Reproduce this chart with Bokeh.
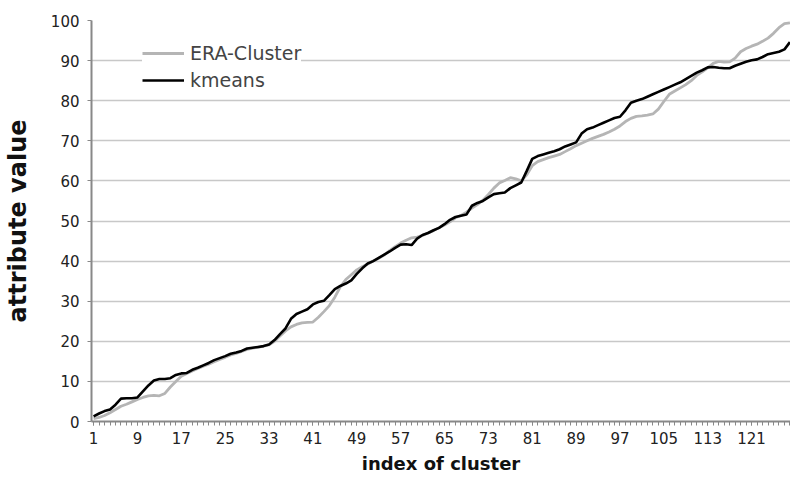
from bokeh.plotting import figure
from bokeh.models import FixedTicker, Range1d, Legend, LegendItem
from bokeh.embed import file_html
from bokeh.resources import INLINE

# ---- data ----
cluster_index = list(range(1, 129))

era_cluster = [
    0.7, 1.0, 1.5, 2.2, 3.0, 3.8, 4.3, 4.9, 5.5, 6.0,
    6.4, 6.5, 6.4, 7.0, 8.6, 10.0, 11.3, 12.0, 12.6, 13.2,
    13.8, 14.3, 14.9, 15.5, 16.0, 16.6, 17.0, 17.5, 18.0, 18.3,
    18.5, 18.8, 19.1, 20.0, 21.3, 22.6, 23.6, 24.2, 24.6, 24.7,
    24.8, 26.0, 27.4, 28.9, 31.0, 33.6, 35.4, 36.6, 37.8, 38.6,
    39.3, 40.0, 40.7, 41.5, 42.6, 43.6, 44.5, 45.2, 45.8, 46.0,
    46.4, 47.0, 47.6, 48.3, 49.0, 49.8, 50.8, 51.4, 52.2, 53.2,
    54.1, 55.2, 56.6, 58.2, 59.5, 60.1, 60.8, 60.5, 60.0, 61.5,
    63.8, 64.8, 65.3, 65.8, 66.2, 66.6, 67.3, 68.0, 68.8, 69.4,
    70.0, 70.6, 71.1, 71.6, 72.2, 72.9, 73.7, 74.8, 75.6, 76.1,
    76.2, 76.4, 76.7, 77.9, 79.8, 81.6, 82.4, 83.2, 84.0, 85.0,
    86.3, 87.2, 88.2, 89.3, 89.8, 89.6, 89.7, 90.6, 92.2, 93.0,
    93.6, 94.1, 94.8, 95.6, 96.8, 98.2, 99.2, 99.4,
]

kmeans = [
    1.3, 2.0, 2.6, 3.0, 4.2, 5.7, 5.8, 5.8, 6.0, 7.5,
    9.0, 10.2, 10.6, 10.6, 10.8, 11.6, 12.0, 12.1, 12.9, 13.4,
    14.0, 14.6, 15.3, 15.8, 16.3, 16.9, 17.2, 17.6, 18.2, 18.4,
    18.6, 18.8, 19.2, 20.3, 21.8, 23.2, 25.6, 26.8, 27.4, 28.0,
    29.2, 29.8, 30.1, 31.5, 33.0, 33.8, 34.4, 35.2, 36.8, 38.2,
    39.4, 40.0, 40.8, 41.6, 42.4, 43.3, 44.1, 44.2, 44.0, 45.6,
    46.5, 47.0, 47.7, 48.3, 49.2, 50.3, 51.0, 51.3, 51.6, 53.8,
    54.5, 55.0, 55.9, 56.7, 56.9, 57.1, 58.2, 58.9, 59.6, 62.5,
    65.5, 66.2, 66.6, 67.0, 67.4, 67.9, 68.6, 69.1, 69.6, 71.8,
    72.9, 73.3, 73.9, 74.5, 75.1, 75.7, 76.0, 77.6, 79.5, 80.0,
    80.4, 81.0, 81.6, 82.2, 82.8, 83.4, 84.0, 84.6, 85.4, 86.2,
    87.0, 87.6, 88.3, 88.4, 88.2, 88.1, 88.1, 88.7, 89.2, 89.7,
    90.1, 90.3, 90.9, 91.6, 91.9, 92.2, 92.8, 94.6,
]

x_tick_labels = [1, 9, 17, 25, 33, 41, 49, 57, 65, 73, 81, 89, 97, 105, 113, 121]
y_ticks = [0, 10, 20, 30, 40, 50, 60, 70, 80, 90, 100]

FONT = "DejaVu Sans"

p = figure(
    width=790, height=482,
    output_backend="svg", toolbar_location=None,
    x_range=Range1d(0.62, 128.1), y_range=Range1d(0, 100),
    min_border_left=89, min_border_right=0, min_border_top=20, min_border_bottom=61,
)
p.outline_line_color = None
p.background_fill_color = "white"
p.border_fill_color = "white"

r_era = p.line(cluster_index, era_cluster, line_color="#b5b5b5", line_width=2.8)
r_km = p.line(cluster_index, kmeans, line_color="#000000", line_width=2.6)

# axes
p.xaxis.ticker = FixedTicker(ticks=x_tick_labels, minor_ticks=cluster_index)
p.yaxis.ticker = FixedTicker(ticks=y_ticks)
p.xgrid.visible = False
p.ygrid.grid_line_color = "#c8c8c8"
p.ygrid.grid_line_width = 1.6

for ax in (p.xaxis, p.yaxis):
    ax.axis_line_color = "#888888"
    ax.axis_line_width = 2
    ax.major_tick_line_color = "#888888"
    ax.minor_tick_line_color = "#888888"
    ax.major_tick_in = 0
    ax.major_tick_out = 4
    ax.minor_tick_in = 0
    ax.minor_tick_out = 4
    ax.major_label_text_font = FONT
    ax.major_label_text_font_size = "15px"
    ax.major_label_text_color = "#222222"
    ax.axis_label_text_font = FONT
    ax.axis_label_text_font_style = "bold"
    ax.axis_label_text_color = "#111111"

p.xaxis.axis_label_text_font_size = "18px"
p.yaxis.axis_label_text_font_size = "24px"
p.yaxis.minor_tick_out = 0
p.xaxis.axis_label = "index of cluster"
p.yaxis.axis_label = "attribute value"
p.xaxis.major_label_standoff = 6
p.xaxis.axis_label_standoff = 6
p.yaxis.major_label_standoff = 8
p.yaxis.axis_label_standoff = 16

legend = Legend(
    items=[LegendItem(label="ERA-Cluster", renderers=[r_era]),
           LegendItem(label="kmeans", renderers=[r_km])],
    location=(51, 330),
    glyph_width=42, glyph_height=20, label_height=20,
    spacing=5, padding=4, margin=0,
    label_text_font=FONT, label_text_font_size="19px",
    label_standoff=6,
    border_line_color=None, background_fill_color="white", background_fill_alpha=1.0,
)
p.add_layout(legend)

open("out.html", "w").write(file_html(p, INLINE))
